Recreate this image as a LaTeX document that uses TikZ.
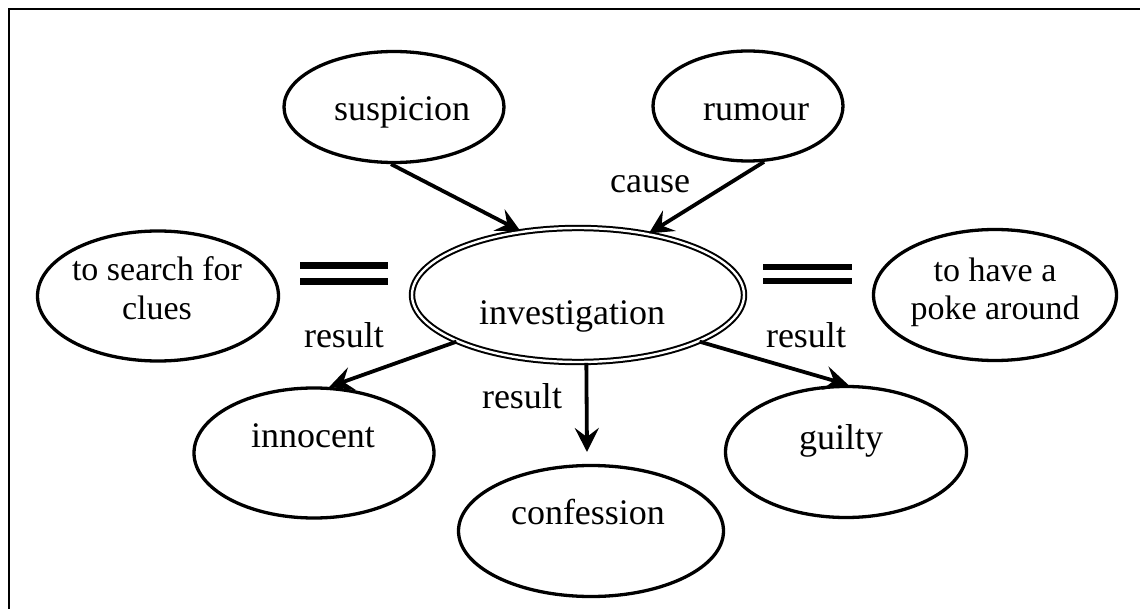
\documentclass[tikz,border=0pt]{standalone}
\usepackage{fontspec}
\setmainfont{Liberation Serif}
\usetikzlibrary{arrows.meta,shapes.geometric}
\begin{document}
\begin{tikzpicture}[x=1pt,y=-1pt,
  ell/.style={draw,ellipse,line width=3.3pt,inner sep=0pt},
  dbl/.style={draw,ellipse,line width=2pt,double,double distance=2.4pt,inner sep=0pt},
  txt/.style={inner sep=0pt,anchor=base,font=\fontsize{36}{38}\selectfont},
  txtb/.style={inner sep=0pt,anchor=base,font=\fontsize{34}{38}\selectfont},
  arr/.style={line width=3.8pt,-{Stealth[length=24pt,width=24pt,inset=9pt]}},
  eqbar/.style={line width=6.5pt}]
\useasboundingbox (0,0) rectangle (1140,609);
\draw[line width=1.8pt] (9,609) -- (9,9) -- (1140,9);
% ellipses
\node[ell,minimum width=220pt,minimum height=111pt] (susp) at (394,107) {};
\node[ell,minimum width=190pt,minimum height=110pt] (rum) at (748,106) {};
\node[dbl,minimum width=332pt,minimum height=134pt] (inv) at (578,295) {};
\node[ell,minimum width=241pt,minimum height=130pt] (search) at (158,296) {};
\node[ell,minimum width=243pt,minimum height=131pt] (poke) at (995,295) {};
\node[ell,minimum width=240pt,minimum height=130pt] (inn) at (314,453) {};
\node[ell,minimum width=265pt,minimum height=131pt] (conf) at (591,531) {};
\node[ell,minimum width=241pt,minimum height=131pt] (guilty) at (846,452) {};
% texts
\node[txt] (tsusp) at (402,121) {suspicion};
\node[txt] (trum) at (756,121) {rumour};
\node[txt] (tinv) at (572,325) {investigation};
\node[txt] (tinn) at (313,447) {innocent};
\node[txt] (tconf) at (588,524) {confession};
\node[txt] (tguilty) at (841,449) {guilty};
\node[txtb] (ts1) at (157,281) {to search for};
\node[txtb] (ts2) at (157,320) {clues};
\node[txtb] (tp1) at (995,282) {to have a};
\node[txtb] (tp2) at (995,320) {poke around};
% labels
\node[txt] (lcause) at (650,193) {cause};
\node[txt] (lres1) at (344,348) {result};
\node[txt] (lres2) at (522,408) {result};
\node[txt] (lres3) at (806,348) {result};
% arrows
\draw[arr] (susp.-93) -- (inv.132);
\draw[arr] (rum.-74) -- (inv.41);
\draw[arr] (inv.-159) -- (inn.77);
\coordinate (cend) at (587,452);
\draw[arr] (inv.-83) -- (cend);
\draw[arr] (inv.-21) -- (guilty.88);
% equals signs
\draw[eqbar] (300,265.5) -- (388,265.5);
\draw[eqbar] (300,281.5) -- (388,281.5);
\draw[eqbar] (763,267) -- (852,267);
\draw[eqbar] (763,281) -- (852,281);
\end{tikzpicture}
\end{document}
